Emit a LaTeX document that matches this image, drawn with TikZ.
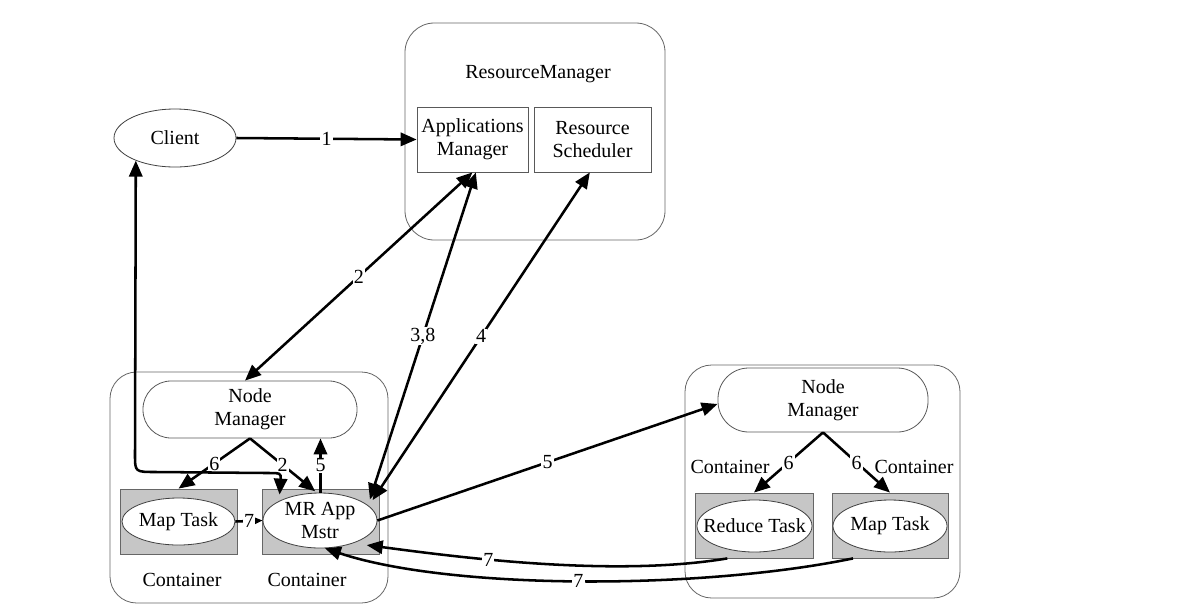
\documentclass[tikz,border=0pt]{standalone}
\usepackage{fontspec}
\setmainfont{Liberation Serif}
\usetikzlibrary{arrows.meta,shapes.geometric}
\begin{document}
\begin{tikzpicture}[x=0.75pt,y=-0.75pt,
  txt/.style={font=\fontsize{15}{17.25}\selectfont, align=center},
  frame/.style={draw=black!60, line width=0.6pt, rounded corners=22pt, inner sep=0pt},
  nm/.style={txt, draw=black!65, line width=0.6pt, inner sep=0pt},
  plainbox/.style={txt, draw=black!65, line width=0.6pt, fill=white, inner sep=0pt},
  graybox/.style={draw=black!60, line width=0.6pt, fill=gray!45, inner sep=0pt},
  oval/.style={txt, ellipse, draw=black!75, line width=0.6pt, fill=white, inner sep=0pt},
  lbl/.style={txt, fill=white, inner sep=0.8pt},
  conn/.style={line width=1.9pt, -{Triangle[length=12pt,width=10pt]}},
  bidir/.style={line width=1.9pt, {Triangle[length=12pt,width=10pt]}-{Triangle[length=12pt,width=10pt]}}
]
\useasboundingbox (0,0) rectangle (1184,611);
\fill[white] (0,0) rectangle (1184,611);

% ResourceManager
\node[frame, minimum width=195pt, minimum height=162.75pt] (RM) at (535,131.5) {};
\node[txt] (RMt) at (538,74) {ResourceManager};
\node[plainbox, minimum width=83.25pt, minimum height=48.75pt] (AM) at (472.5,139.5) {Applications\\Manager};
\node[plainbox, minimum width=87.75pt, minimum height=48.75pt] (RS) at (592.5,139.5) {Resource\\Scheduler};

% Client
\node[oval, minimum width=91.5pt, minimum height=43.5pt] (Client) at (175,138) {Client};

% Left node
\node[frame, rounded corners=20pt, minimum width=208.5pt, minimum height=173.25pt] (LC) at (249,487.5) {};
\node[nm, rounded corners=21pt, minimum width=160.5pt, minimum height=42.75pt] (LNM) at (250,409.5) {Node\\Manager};
\node[graybox, minimum width=87.75pt, minimum height=48.75pt] (LMapBox) at (178.5,521.5) {};
\node[oval, minimum width=84.75pt, minimum height=35.25pt] (LMap) at (178.5,521.5) {\makebox[0pt]{Map Task}};
\node[graybox, minimum width=87.75pt, minimum height=48.75pt] (MRBox) at (320.5,521.5) {};
\node[oval, minimum width=85.5pt, minimum height=41.25pt] (MR) at (320,520.5) {MR App\\Mstr};
\node[txt] (LCl1) at (182,580) {Container};
\node[txt] (LCl2) at (307,580) {Container};

% Right node
\node[frame, rounded corners=20pt, minimum width=206.25pt, minimum height=174.75pt] (RC) at (822.5,481.5) {};
\node[nm, rounded corners=23pt, minimum width=157.5pt, minimum height=48pt] (RNM) at (823,400) {Node\\Manager};
\node[graybox, minimum width=88.5pt, minimum height=48.75pt] (RedBox) at (754,525.5) {};
\node[oval, minimum width=86.25pt, minimum height=39pt] (Red) at (754.5,526) {\makebox[0pt]{Reduce Task}};
\node[graybox, minimum width=87pt, minimum height=48.75pt] (RMapBox) at (890,525.5) {};
\node[oval, minimum width=85.5pt, minimum height=39pt] (RMap) at (890,526) {\makebox[0pt]{Map Task}};
\node[txt] (RCl1) at (730,467) {Container};
\node[txt] (RCl2) at (914,467) {Container};

% Connectors
\draw[conn] (Client.east) -- node[lbl]{1} (AM.west);
\draw[bidir] (AM.south) -- node[lbl]{2} ([xshift=-3.75pt]LNM.north);
\draw[bidir] ([xshift=2.5pt]AM.south) -- node[lbl]{3,8} ([xshift=7pt,yshift=1pt]MR.north east);
\draw[bidir] ([xshift=-2pt]RS.south) -- node[lbl]{4} ([xshift=9pt,yshift=0.5pt]MR.north east);
\draw[conn] (MR.east) -- node[lbl]{5} ([yshift=-3pt]RNM.west);

\draw[conn] (LNM.south) -- node[lbl]{6} (LMapBox.north);
\draw[conn] (LNM.south) -- node[lbl]{2} ([xshift=-4pt,yshift=-2pt]MRBox.north);
\draw[conn] ([yshift=-3pt]MRBox.north) -- node[lbl]{5} (MRBox.north |- LNM.south);

\coordinate (c1) at (135,455);
\coordinate (c2) at (135,472);
\coordinate (c3) at (156,472);
\coordinate (c4) at (266,473);
\coordinate (c5) at (281,473);
\draw[bidir] (Client.210) -- (c1) .. controls (c2) .. (c3) -- (c4) .. controls (c5) .. ([xshift=13.5pt,yshift=-4.5pt]MRBox.north west);

\draw[conn] (LMap.east) -- node[lbl]{7} (MR.west);

\draw[conn] (RNM.south) -- node[lbl]{6} (RedBox.north);
\draw[conn] (RNM.south) -- node[lbl]{6} (RMapBox.north);

\coordinate (a1) at (610,578);
\coordinate (a2) at (450,556);
\draw[conn] ([xshift=-20pt]RedBox.south) .. controls (a1) and (a2) .. node[lbl, pos=0.62]{7} ([xshift=6pt,yshift=-3pt]MR.-28);
\coordinate (b1) at (700,590);
\coordinate (b2) at (450,590);
\draw[conn] ([xshift=-27.75pt]RMapBox.south) .. controls (b1) and (b2) .. node[lbl, pos=0.5]{7} (MR.-80);
\end{tikzpicture}
\end{document}
